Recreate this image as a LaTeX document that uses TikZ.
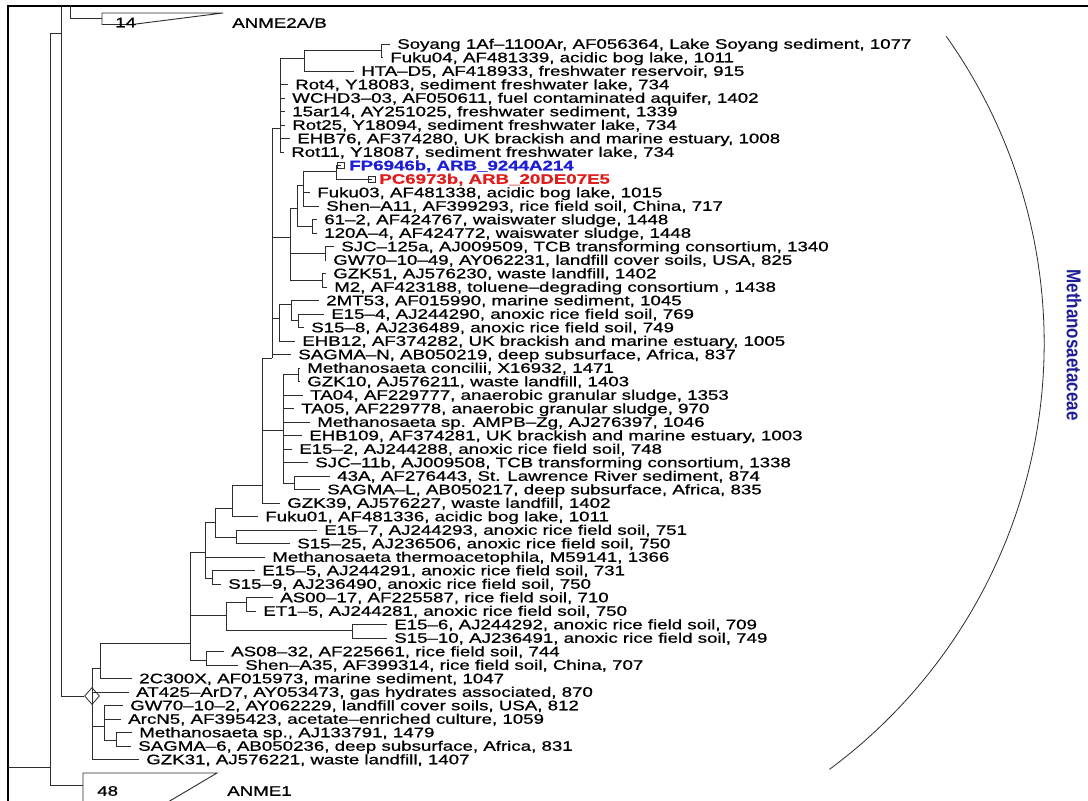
\documentclass[tikz,border=0pt]{standalone}
\usepackage{fontspec}
\setmainfont{Liberation Sans}
\newfontfamily\leaffam{Liberation Sans}[RawFeature={embolden=0.7}]
\usetikzlibrary{shapes.geometric}
\definecolor{fpblue}{RGB}{30,30,215}
\definecolor{pcred}{RGB}{225,30,30}
\definecolor{famblue}{RGB}{30,30,150}
\definecolor{linec}{RGB}{45,45,45}
\newcommand\lfont{\leaffam\fontsize{13.8}{13.8}\selectfont}
\newcommand\lf[4]{\node[leaf] (#1) at (#2,#3) {#4};}
\begin{document}
\begin{tikzpicture}[x=1pt,y=-1pt,
  br/.style={draw=linec, line width=0.9pt},
  frame/.style={draw=black, line width=1.6pt},
  leaf/.style={anchor=west, inner sep=0pt, font=\lfont, text height=9.5pt, text depth=0pt, xscale=1.355},
  tipbox/.style={draw=linec, line width=0.6pt, rectangle, minimum width=7pt, minimum height=6pt, inner sep=0pt},
  dia/.style={draw=linec, line width=0.8pt, diamond, minimum width=15pt, minimum height=17pt, inner sep=0pt},
]
\path[use as bounding box] (0,0) rectangle (1088,801);
\clip (0,0) rectangle (1088,801);
\fill[white] (0,0) rectangle (1088,801);
% frame
\draw[frame] (8,810) -- (8,6) -- (1095,6);

% ---------- leaves ----------
\lf{l1}{397}{44}{Soyang 1Af–1100Ar, AF056364, Lake Soyang sediment, 1077}
\lf{l2}{390}{57.5}{Fuku04, AF481339, acidic bog lake, 1011}
\lf{l3}{361}{71}{HTA–D5, AF418933, freshwater reservoir, 915}
\lf{l4}{295}{84.5}{Rot4, Y18083, sediment freshwater lake, 734}
\lf{l5}{292}{98}{WCHD3–03, AF050611, fuel contaminated aquifer, 1402}
\lf{l6}{292}{111.5}{15ar14, AY251025, freshwater sediment, 1339}
\lf{l7}{292}{125}{Rot25, Y18094, sediment freshwater lake, 734}
\lf{l8}{297}{138.5}{EHB76, AF374280, UK brackish and marine estuary, 1008}
\lf{l9}{291}{152}{Rot11, Y18087, sediment freshwater lake, 734}
\lf{l10}{349}{165.5}{\textcolor{fpblue}{\bfseries FP6946b, ARB\_9244A214}}
\lf{l11}{379}{179}{\textcolor{pcred}{\bfseries PC6973b, ARB\_20DE07E5}}
\lf{l12}{317}{192.5}{Fuku03, AF481338, acidic bog lake, 1015}
\lf{l13}{326}{206}{Shen–A11, AF399293, rice field soil, China, 717}
\lf{l14}{324}{219.5}{61–2, AF424767, waiswater sludge, 1448}
\lf{l15}{324}{233}{120A–4, AF424772, waiswater sludge, 1448}
\lf{l16}{341}{246.5}{SJC–125a, AJ009509, TCB transforming consortium, 1340}
\lf{l17}{333}{260}{GW70–10–49, AY062231, landfill cover soils, USA, 825}
\lf{l18}{333}{273.5}{GZK51, AJ576230, waste landfill, 1402}
\lf{l19}{334}{287}{M2, AF423188, toluene–degrading consortium , 1438}
\lf{l20}{326}{300.5}{2MT53, AF015990, marine sediment, 1045}
\lf{l21}{331}{314}{E15–4, AJ244290, anoxic rice field soil, 769}
\lf{l22}{311}{327.5}{S15–8, AJ236489, anoxic rice field soil, 749}
\lf{l23}{302}{341}{EHB12, AF374282, UK brackish and marine estuary, 1005}
\lf{l24}{298}{354.5}{SAGMA–N, AB050219, deep subsurface, Africa, 837}
\lf{l25}{307}{368}{Methanosaeta concilii, X16932, 1471}
\lf{l26}{307}{381.5}{GZK10, AJ576211, waste landfill, 1403}
\lf{l27}{310}{395}{TA04, AF229777, anaerobic granular sludge, 1353}
\lf{l28}{301}{408.5}{TA05, AF229778, anaerobic granular sludge, 970}
\lf{l29}{317}{422}{Methanosaeta sp. AMPB–Zg, AJ276397, 1046}
\lf{l30}{309}{435.5}{EHB109, AF374281, UK brackish and marine estuary, 1003}
\lf{l31}{299}{449}{E15–2, AJ244288, anoxic rice field soil, 748}
\lf{l32}{315}{462.5}{SJC–11b, AJ009508, TCB transforming consortium, 1338}
\lf{l33}{337}{476}{43A, AF276443, St. Lawrence River sediment, 874}
\lf{l34}{327}{489.5}{SAGMA–L, AB050217, deep subsurface, Africa, 835}
\lf{l35}{287}{503}{GZK39, AJ576227, waste landfill, 1402}
\lf{l36}{265}{516.5}{Fuku01, AF481336, acidic bog lake, 1011}
\lf{l37}{324}{530}{E15–7, AJ244293, anoxic rice field soil, 751}
\lf{l38}{297}{543.5}{S15–25, AJ236506, anoxic rice field soil, 750}
\lf{l39}{272}{557}{Methanosaeta thermoacetophila, M59141, 1366}
\lf{l40}{262}{570.5}{E15–5, AJ244291, anoxic rice field soil, 731}
\lf{l41}{228}{584}{S15–9, AJ236490, anoxic rice field soil, 750}
\lf{l42}{280}{597.5}{AS00–17, AF225587, rice field soil, 710}
\lf{l43}{263}{611}{ET1–5, AJ244281, anoxic rice field soil, 750}
\lf{l44}{394}{624.5}{E15–6, AJ244292, anoxic rice field soil, 709}
\lf{l45}{394}{638}{S15–10, AJ236491, anoxic rice field soil, 749}
\lf{l46}{231}{651.5}{AS08–32, AF225661, rice field soil, 744}
\lf{l47}{245}{665}{Shen–A35, AF399314, rice field soil, China, 707}
\lf{l48}{139}{678.5}{2C300X, AF015973, marine sediment, 1047}
\lf{l49}{136}{692}{AT425–ArD7, AY053473, gas hydrates associated, 870}
\lf{l50}{130}{705.5}{GW70–10–2, AY062229, landfill cover soils, USA, 812}
\lf{l51}{128}{719}{ArcN5, AF395423, acetate–enriched culture, 1059}
\lf{l52}{139}{732.5}{Methanosaeta sp., AJ133791, 1479}
\lf{l53}{138}{746}{SAGMA–6, AB050236, deep subsurface, Africa, 831}
\lf{l54}{146}{759.5}{GZK31, AJ576221, waste landfill, 1407}

% ---------- internal nodes ----------
\coordinate (stem) at (8,767);
\coordinate (R0) at (50,767);
\coordinate (A0top) at (61,6);
\coordinate (A0) at (61,33);
\coordinate (X2top) at (70,6);
\coordinate (anme2) at (102,18);
\coordinate (anme1) at (83,785);
\node[dia] (d0) at (92,696) {};
\coordinate (U1) at (100,668);
\coordinate (L1) at (104,726);
\coordinate (L2) at (116,740);
\coordinate (V) at (190,643);
\coordinate (AP) at (206,660);
\coordinate (ASn) at (226,615);
\coordinate (ASP) at (246,602);
\coordinate (E6P) at (352,630);
\coordinate (Z3) at (205,552);
\coordinate (E5P) at (212,578);
\coordinate (Z2) at (215,522);
\coordinate (EP) at (236,537);
\coordinate (Z1) at (232,508);
\coordinate (N0) at (262,485);
\coordinate (M) at (283,430);
\coordinate (CG) at (298,374);
\coordinate (WP) at (294,483);
\coordinate (N1) at (272,358);
\coordinate (R) at (279,318);
\coordinate (Q) at (291,304);
\coordinate (Q2) at (298,320);
\coordinate (C) at (290,237);
\coordinate (E) at (297,208);
\coordinate (F) at (303,185);
\coordinate (G) at (312,226);
\coordinate (SJ) at (325,253);
\coordinate (GZ) at (322,280);
\coordinate (P) at (336,171);
\coordinate (T) at (280,128);
\coordinate (H) at (304,58);
\coordinate (S1) at (381,50);
\node[tipbox] (fpb) at (341,165.5) {};
\node[tipbox] (pcb) at (371.5,179) {};

% ---------- collapsed clades ----------
\draw[br] (102,13) -- (223,13) -- (132,24.5) -- (102,24.5) -- cycle;
\node[leaf] (n14) at (115,22.5) {14};
\node[leaf] (lanme2) at (232,23) {ANME2A/B};
\draw[br] (83,805) -- (83,773) -- (217,773) -- (163,805);
\node[leaf] (n48) at (97,791) {48};
\node[leaf] (lanme1) at (227,791) {ANME1};

% ---------- branches ----------
\newcommand\tl[2]{\draw[br] (#1) |- ([xshift=-7pt]#2.west);}
\draw[br] (stem) -- (R0);
\draw[br] (R0) |- (A0);
\draw[br] (R0) |- (anme1);
\draw[br] (A0top) -- (A0);
\draw[br] (A0) |- (d0.west);
\draw[br] (X2top) |- (anme2);
% Methanosaetaceae root
\draw[br] (d0.center) |- (U1);
\tl{d0.center}{l49}
\draw[br] (d0.center) |- (L1);
\tl{d0.center}{l54}
\draw[br] (L1) |- (L2);
\tl{L1}{l50} \tl{L1}{l51}
\tl{L2}{l52} \tl{L2}{l53}
\draw[br] (U1) |- (V);
\tl{U1}{l48}
\draw[br] (V) |- (Z3);
\draw[br] (V) |- (ASn);
\draw[br] (V) |- (AP);
\tl{AP}{l46} \tl{AP}{l47}
\draw[br] (ASn) |- (ASP);
\draw[br] (ASn) |- (E6P);
\tl{ASP}{l42} \tl{ASP}{l43}
\tl{E6P}{l44} \tl{E6P}{l45}
\draw[br] (Z3) |- (Z2);
\tl{Z3}{l39}
\draw[br] (Z3) |- (E5P);
\tl{E5P}{l40} \tl{E5P}{l41}
\draw[br] (Z2) |- (Z1);
\draw[br] (Z2) |- (EP);
\tl{EP}{l37} \tl{EP}{l38}
\draw[br] (Z1) |- (N0);
\tl{Z1}{l36}
\draw[br] (N0) |- (N1);
\draw[br] (N0) |- (M);
\tl{N0}{l35}
\draw[br] (M) |- (CG);
\tl{CG}{l25} \tl{CG}{l26}
\tl{M}{l27} \tl{M}{l28} \tl{M}{l29} \tl{M}{l30} \tl{M}{l31} \tl{M}{l32}
\draw[br] (M) |- (WP);
\tl{WP}{l33} \tl{WP}{l34}
\draw[br] (N1) |- (T);
\draw[br] (N1) |- (C);
\draw[br] (N1) |- (R);
\tl{N1}{l24}
\draw[br] (R) |- (Q);
\tl{R}{l23}
\tl{Q}{l20}
\draw[br] (Q) |- (Q2);
\tl{Q2}{l21} \tl{Q2}{l22}
\draw[br] (C) |- (E);
\draw[br] (C) |- (SJ);
\draw[br] (C) |- (GZ);
\tl{SJ}{l16} \tl{SJ}{l17}
\tl{GZ}{l18} \tl{GZ}{l19}
\draw[br] (E) |- (F);
\draw[br] (E) |- (G);
\tl{G}{l14} \tl{G}{l15}
\draw[br] (F) |- (P);
\tl{F}{l12} \tl{F}{l13}
\draw[br] (P) |- (fpb.center);
\draw[br] (P) |- (pcb.center);
\draw[br] (T) |- (H);
\tl{T}{l4} \tl{T}{l5} \tl{T}{l6} \tl{T}{l7} \tl{T}{l8} \tl{T}{l9}
\draw[br] (H) |- (S1);
\tl{H}{l3}
\tl{S1}{l1} \tl{S1}{l2}

% ---------- family bracket ----------
\coordinate (arcTop) at (946,36);
\draw[draw=linec, line width=0.8pt] plot[domain=-35.4:53.5, samples=90, smooth] ({514.1+530.1*cos(\x)},{343.3+530.1*sin(\x)});
\node[rotate=-90, inner sep=0pt, text=famblue, font=\bfseries\fontsize{20}{20}\selectfont] (fam) at (1074,345) {\scalebox{0.85}[1]{Methanosaetaceae}};
\end{tikzpicture}
\end{document}
